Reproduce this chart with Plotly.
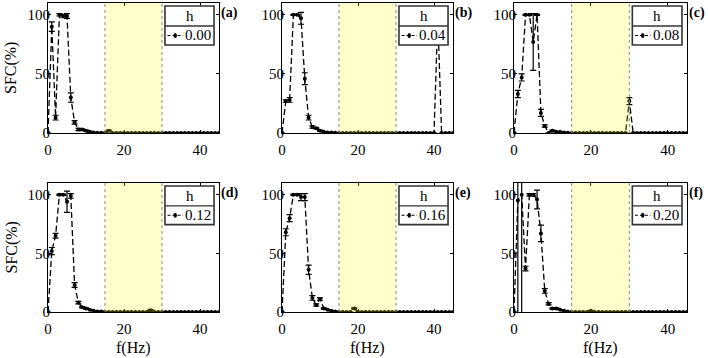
import plotly.graph_objects as go

# ---------------- data ----------------
freq = list(range(0, 46))
h_labels = ["0.00", "0.04", "0.08", "0.12", "0.16", "0.20"]
panel_tags = ["(a)", "(b)", "(c)", "(d)", "(e)", "(f)"]

sfc_a = [0, 90, 13, 100, 99, 99, 30, 9, 3, 3, 2, 1, 0.5, 0.3, 0.2, 0.2, 2, 0, 0, 0,
         0, 0, 0, 0, 0, 0, 0, 0, 0, 0, 0, 0, 0, 0, 0, 0, 0, 0, 0, 0,
         0, 0, 0, 0, 0, 0]
err_a = [0, 4, 2, 1, 1.5, 2, 4, 1.5, 1, 0.5, 0.5, 0.5, 0, 0, 0, 0, 0.5, 0, 0, 0,
         0, 0, 0, 0, 0, 0, 0, 0, 0, 0, 0, 0, 0, 0, 0, 0, 0, 0, 0, 0,
         0, 0, 0, 0, 0, 0]

sfc_b = [0, 27, 28, 100, 100, 97, 46, 13, 5, 4, 2, 1, 0.5, 0.5, 0.3, 0, 0, 0, 0, 0,
         0, 0, 0, 0, 0, 0, 0, 0, 0, 0, 0, 0, 0, 0, 0, 0, 0, 0, 0, 0,
         0, 97, 0, 0, 0, 0]
err_b = [0, 1, 2, 0.5, 0.5, 5, 5, 2, 1, 0.5, 0.5, 0, 0, 0, 0, 0, 0, 0, 0, 0,
         0, 0, 0, 0, 0, 0, 0, 0, 0, 0, 0, 0, 0, 0, 0, 0, 0, 0, 0, 0,
         0, 5, 0, 0, 0, 0]

sfc_c = [0, 33, 47, 100, 100, 77, 100, 17, 6, 0, 2, 1, 1, 0.5, 0.3, 0, 0, 0, 0, 0,
         0, 0, 0, 0, 0, 0, 0, 0, 0, 0, 27, 0, 0, 0, 0, 0, 0, 0, 0, 0,
         0, 0, 0, 0, 0, 0]
err_c = [0, 3, 3, 0.5, 0.5, 24, 0.5, 3, 1, 0, 0.5, 0, 0, 0, 0, 0, 0, 0, 0, 0,
         0, 0, 0, 0, 0, 0, 0, 0, 0, 0, 3, 0, 0, 0, 0, 0, 0, 0, 0, 0,
         0, 0, 0, 0, 0, 0]

sfc_d = [0, 52, 65, 100, 100, 94, 99, 23, 8, 4, 3, 2, 1, 0.5, 0.5, 0, 0, 0, 0, 0,
         0, 0, 0, 0, 0, 0, 0, 1.5, 0, 0, 0, 0, 0, 0, 0, 0, 0, 0, 0, 0,
         0, 0, 0, 0, 0, 0]
err_d = [0, 3, 2, 0.5, 0.5, 9, 2, 2, 1, 0.5, 0.5, 0, 0, 0, 0, 0, 0, 0, 0, 0,
         0, 0, 0, 0, 0, 0, 0, 0.5, 0, 0, 0, 0, 0, 0, 0, 0, 0, 0, 0, 0,
         0, 0, 0, 0, 0, 0]

sfc_e = [0, 68, 80, 100, 100, 98, 98, 36, 12, 6, 11, 3, 2, 1, 0.5, 0, 0, 0, 0, 3,
         0, 0, 0, 0, 0, 0, 0, 0, 0, 0, 0, 0, 0, 0, 0, 0, 0, 0, 0, 0,
         0, 0, 0, 0, 0, 0]
err_e = [0, 3, 3, 0.5, 0.5, 3, 3, 4, 2, 1, 1, 0.5, 0, 0, 0, 0, 0, 0, 0, 0.5,
         0, 0, 0, 0, 0, 0, 0, 0, 0, 0, 0, 0, 0, 0, 0, 0, 0, 0, 0, 0,
         0, 0, 0, 0, 0, 0]

sfc_f = [0, 95, 100, 37, 100, 100, 96, 67, 18, 7, 3, 3, 2, 1, 0.5, 0, 0, 0, 0, 0,
         1, 0, 0, 0, 0, 0, 0, 0, 0, 0, 0, 0, 0, 0, 0, 0, 0, 0, 0, 0,
         0, 0, 0, 0, 0, 0]
err_f = [0, 300, 300, 2, 1, 1, 8, 7, 2, 1, 0.5, 0.5, 0, 0, 0, 0, 0, 0, 0, 0,
         0.3, 0, 0, 0, 0, 0, 0, 0, 0, 0, 0, 0, 0, 0, 0, 0, 0, 0, 0, 0,
         0, 0, 0, 0, 0, 0]

series = [sfc_a, sfc_b, sfc_c, sfc_d, sfc_e, sfc_f]
errors = [err_a, err_b, err_c, err_d, err_e, err_f]

band_lo, band_hi = 15, 30
x_range = [0, 45]
y_range = [0, 110]
x_ticks = [0, 20, 40]
y_ticks = [0, 50, 100]

# ---------------- layout geometry ----------------
W, H = 708, 358
col_px = [(48, 219), (282, 453), (514, 687)]
row_px = [(3, 133), (183, 312)]

FONT = "Liberation Serif, Times New Roman, serif"
fig = go.Figure()

for i in range(6):
    r, c = divmod(i, 3)
    n = i + 1
    xa = "x" if n == 1 else f"x{n}"
    ya = "y" if n == 1 else f"y{n}"
    xdom = [col_px[c][0] / W, col_px[c][1] / W]
    ydom = [1 - row_px[r][1] / H, 1 - row_px[r][0] / H]
    axis_common = dict(showline=True, linecolor="black", linewidth=1, mirror="ticks",
                       ticks="inside", ticklen=3, tickcolor="black", showgrid=False,
                       zeroline=False, automargin=False,
                       tickfont=dict(family=FONT, size=15, color="black"))
    fig.layout[f"xaxis{'' if n == 1 else n}"] = dict(
        domain=xdom, range=x_range, tickvals=x_ticks, anchor=ya,
        ticklabelstandoff=3, **axis_common)
    fig.layout[f"yaxis{'' if n == 1 else n}"] = dict(
        domain=ydom, range=y_range, tickvals=y_ticks, anchor=xa,
        ticklabelstandoff=-6, **axis_common)

    fig.add_trace(go.Scatter(
        x=freq, y=series[i], xaxis=xa, yaxis=ya, mode="lines+markers",
        line=dict(color="black", width=1.3, dash="6px,3px"),
        marker=dict(color="black", size=4),
        error_y=dict(type="data", array=errors[i], visible=True, color="black",
                     thickness=1.2, width=3),
        showlegend=False, cliponaxis=True))

    # shaded band (transparent yellow over data)
    fig.add_shape(type="rect", xref=xa, yref=f"{ya} domain", x0=band_lo, x1=band_hi,
                  y0=0, y1=1, fillcolor="rgba(255,255,0,0.2)",
                  line=dict(width=0), layer="above")
    for xv in (band_lo, band_hi):
        fig.add_shape(type="line", xref=xa, yref=f"{ya} domain", x0=xv, x1=xv,
                      y0=0, y1=1, line=dict(color="#888888", width=1, dash="dot"),
                      layer="above")

    # legend-like box
    xd, yd = f"{xa} domain", f"{ya} domain"
    lx0, lx1, ly0, ly1, lsep = 0.684, 0.971, 0.677, 0.977, 0.823
    fig.add_shape(type="rect", xref=xd, yref=yd, x0=lx0, x1=lx1, y0=ly0, y1=ly1,
                  fillcolor="white", line=dict(color="#333333", width=1.6), layer="above")
    fig.add_shape(type="line", xref=xd, yref=yd, x0=lx0, x1=lx1, y0=lsep, y1=lsep,
                  line=dict(color="#333333", width=1.3), layer="above")
    fig.add_annotation(xref=xd, yref=yd, x=(lx0 + lx1) / 2, y=(ly1 + lsep) / 2,
                       xanchor="center", yanchor="middle",
                       text="h", showarrow=False,
                       font=dict(family=FONT, size=15, color="black"))
    ymid = (lsep + ly0) / 2
    fig.add_shape(type="line", xref=xd, yref=yd, x0=lx0 + 0.015, x1=lx0 + 0.105,
                  y0=ymid, y1=ymid,
                  line=dict(color="black", width=1.2, dash="3px,2px"), layer="above")
    fig.add_shape(type="circle", xref=xd, yref=yd, x0=lx0 + 0.05, x1=lx0 + 0.07,
                  y0=ymid - 0.02, y1=ymid + 0.02,
                  fillcolor="black", line=dict(color="black", width=0), layer="above")
    fig.add_annotation(xref=xd, yref=yd, x=lx0 + 0.108, y=ymid,
                       xanchor="left", yanchor="middle", text=h_labels[i], showarrow=False,
                       font=dict(family=FONT, size=15, color="black"))

    # panel tag
    fig.add_annotation(xref=xd, yref=yd, x=1.0, y=0.92, xanchor="left", yanchor="middle",
                       text=f"<b>{panel_tags[i]}</b>", showarrow=False,
                       font=dict(family=FONT, size=14, color="black"))

    if c == 0:
        fig.add_annotation(xref="paper", yref=yd, x=11 / W, y=0.5, text="SFC(%)",
                           xanchor="center", yanchor="middle",
                           textangle=-90, showarrow=False,
                           font=dict(family=FONT, size=16, color="black"))
    if r == 1:
        fig.add_annotation(xref=xd, yref="paper", x=0.5, y=1 - 348 / H, text="f(Hz)",
                           xanchor="center", yanchor="middle",
                           showarrow=False, font=dict(family=FONT, size=16, color="black"))

fig.update_layout(width=W, height=H,
                  margin=dict(l=0, r=0, t=0, b=0, autoexpand=False),
                  plot_bgcolor="white", paper_bgcolor="white", showlegend=False)

fig.write_html("out.html", config={"displayModeBar": False},
               post_script="document.body.style.margin='0px';")
